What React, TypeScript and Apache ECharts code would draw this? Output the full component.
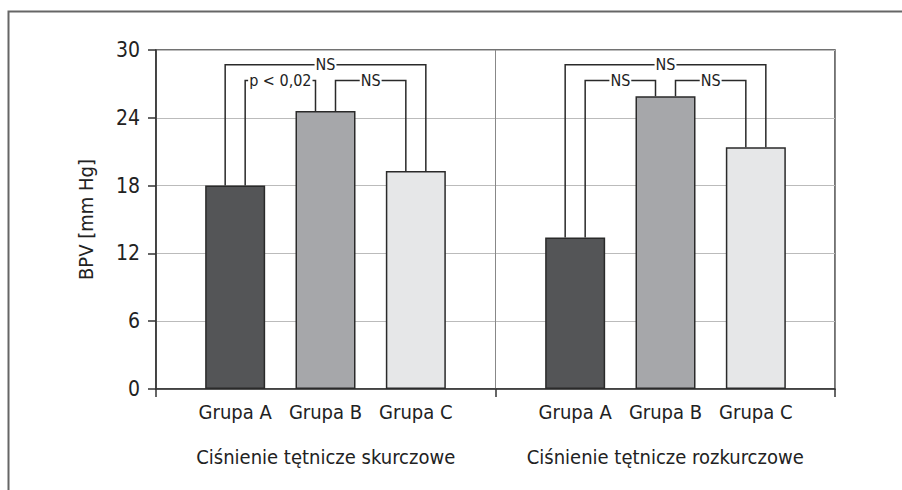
import React, { useEffect, useRef } from "react";
import * as echarts from "echarts";

const FONT = "'Liberation Sans Narrow', 'Arial Narrow', 'DejaVu Sans Condensed', sans-serif";

const groupCategories = ["Grupa A", "Grupa B", "Grupa C"];
const panelTitles = ["Ciśnienie tętnicze skurczowe", "Ciśnienie tętnicze rozkurczowe"];
const systolicValues = [18.0, 24.6, 19.3];
const diastolicValues = [13.4, 25.9, 21.4];
const yTicks = { min: 0, max: 30, interval: 6 };
const systolicBrackets = [
  { from: 0, to: 2, level: 28.7, label: "NS" },
  { from: 0, to: 1, level: 27.3, label: "p < 0,02" },
  { from: 1, to: 2, level: 27.3, label: "NS" },
];
const diastolicBrackets = [
  { from: 0, to: 2, level: 28.7, label: "NS" },
  { from: 0, to: 1, level: 27.3, label: "NS" },
  { from: 1, to: 2, level: 27.3, label: "NS" },
];
const groupColors = ["#545557", "#a6a7aa", "#e6e7e8"];

function bracketRenderer(values: number[], brackets: { from: number; to: number; level: number; label: string }[]) {
  return (params: any, api: any) => {
    const b = brackets[params.dataIndex];
    const span = b.to - b.from;
    const off = 10;
    const lo = span > 1 ? -off : off;
    const ro = span > 1 ? off : -off;
    const a0 = api.coord([b.from, values[b.from]]);
    const a1 = api.coord([b.from, b.level]);
    const c0 = api.coord([b.to, values[b.to]]);
    const c1 = api.coord([b.to, b.level]);
    const xl = a0[0] + lo;
    const xr = c0[0] + ro;
    return {
      type: "group",
      children: [
        {
          type: "polyline",
          shape: { points: [[xl, a0[1]], [xl, a1[1]], [xr, c1[1]], [xr, c0[1]]] },
          style: { stroke: "#2a2a2a", lineWidth: 1.5, fill: "none" },
        },
        {
          type: "text",
          x: (xl + xr) / 2,
          y: a1[1],
          style: {
            text: b.label,
            fill: "#222",
            fontSize: 16,
            fontFamily: FONT,
            align: "center",
            verticalAlign: "middle",
            backgroundColor: "#fff",
            padding: [0, 1],
          },
        },
      ],
    };
  };
}

export default function App() {
  const ref = useRef<HTMLDivElement>(null);
  useEffect(() => {
    if (!ref.current) return;
    const chart = echarts.init(ref.current, null, { renderer: "svg" });
    const barSeries = (values: number[], idx: number) => ({
      type: "bar",
      xAxisIndex: idx,
      yAxisIndex: idx,
      barWidth: 60,
      data: values.map((v, i) => ({ value: v, itemStyle: { color: groupColors[i] } })),
      itemStyle: { borderColor: "#2a2a2a", borderWidth: 1.5 },
      z: 3,
    });
    const bracketSeries = (values: number[], brackets: any[], idx: number) => ({
      type: "custom",
      xAxisIndex: idx,
      yAxisIndex: idx,
      renderItem: bracketRenderer(values, brackets),
      data: brackets.map((b) => [b.from, b.level]),
      encode: { x: 0, y: 1 },
      z: 4,
      clip: false,
    });
    const hiddenY = (idx: number) => ({
      type: "value",
      gridIndex: idx,
      min: yTicks.min,
      max: yTicks.max,
      interval: yTicks.interval,
      show: false,
    });
    const groupX = (idx: number) => ({
      type: "category",
      gridIndex: idx,
      data: groupCategories,
      axisLine: { show: false },
      axisTick: { show: false },
      splitLine: { show: false },
      axisLabel: { margin: 13, fontSize: 20, color: "#222", fontFamily: FONT, interval: 0, hideOverlap: false },
    });
    chart.setOption({
      animation: false,
      backgroundColor: "#fff",
      graphic: [
        {
          type: "rect",
          shape: { x: 8.5, y: 11.5, width: 1200, height: 1200 },
          style: { fill: "none", stroke: "#666", lineWidth: 2 },
          silent: true,
        },
      ],
      grid: [
        { left: 156, top: 50, right: 67, bottom: 101, show: true, borderColor: "#444", borderWidth: 1.5 },
        { left: 190, top: 50, width: 271, bottom: 101 },
        { left: 530, top: 50, width: 271, bottom: 101 },
      ],
      xAxis: [
        {
          type: "category",
          gridIndex: 0,
          data: panelTitles,
          axisLine: { show: true, lineStyle: { color: "#333", width: 1.5 } },
          axisTick: { show: true, length: 8, lineStyle: { color: "#333", width: 1.5 } },
          axisLabel: { margin: 58, fontSize: 20, color: "#222", fontFamily: FONT, interval: 0, hideOverlap: false },
          splitLine: { show: true, lineStyle: { color: "#888", width: 1 } },
        },
        groupX(1),
        groupX(2),
      ],
      yAxis: [
        {
          type: "value",
          gridIndex: 0,
          min: yTicks.min,
          max: yTicks.max,
          interval: yTicks.interval,
          name: "BPV [mm Hg]",
          nameLocation: "middle",
          nameGap: 60,
          nameTextStyle: { fontSize: 20, color: "#222", fontFamily: FONT },
          axisLine: { show: true, lineStyle: { color: "#333", width: 1.5 } },
          axisTick: { show: true, length: 8, lineStyle: { color: "#333", width: 1.5 } },
          axisLabel: { margin: 16, fontSize: 21, color: "#222", fontFamily: FONT },
          splitLine: { show: true, lineStyle: { color: "#bbb", width: 1 } },
        },
        hiddenY(1),
        hiddenY(2),
      ],
      series: [
        barSeries(systolicValues, 1),
        barSeries(diastolicValues, 2),
        bracketSeries(systolicValues, systolicBrackets, 1),
        bracketSeries(diastolicValues, diastolicBrackets, 2),
      ],
    });
    return () => chart.dispose();
  }, []);
  return <div ref={ref} style={{ position: "absolute", left: 0, top: 0, width: 902, height: 490 }} />;
}
